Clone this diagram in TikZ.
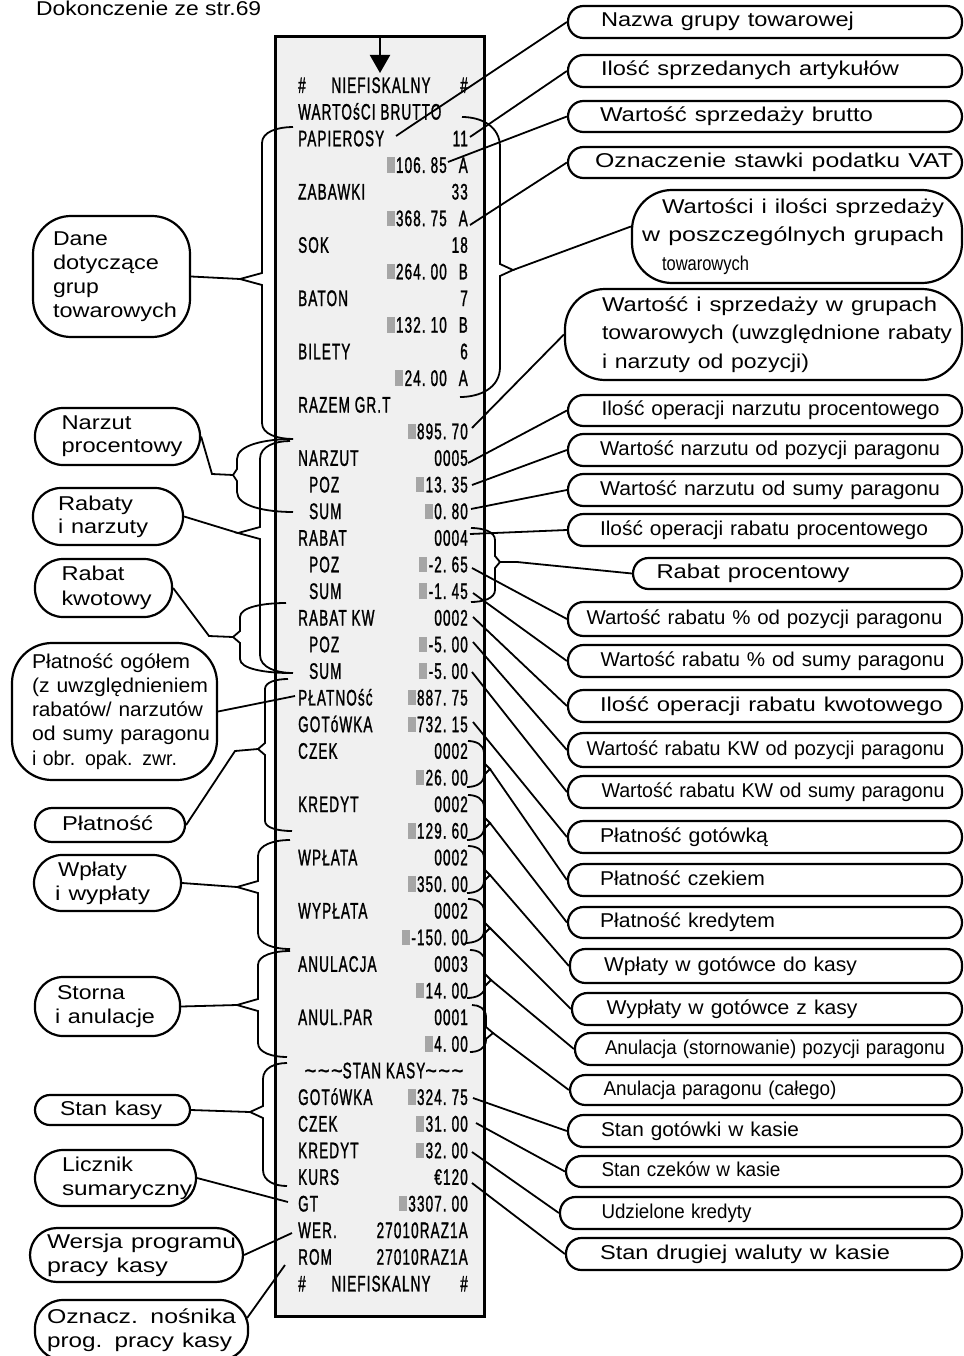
\documentclass[tikz,border=0pt]{standalone}
\usepackage{fontspec}
\usepackage{graphicx}
\usepackage{xcolor}
\setmainfont{Liberation Sans}
\newfontfamily\rcptf[FakeStretch=0.6,FakeBold=1.2,LetterSpace=5]{Liberation Sans}
\newcommand\rcpt{\rcptf\fontsize{22.5}{26}\selectfont}
\newcommand\lab{\fontsize{20}{24}\selectfont}
\newcommand\labs[1]{\fontsize{20}{#1}\selectfont}
\newcommand\fw[2]{\resizebox{#1}{\height}{#2}}
\newcommand\zl{{\color{black!35}\rule{8pt}{15.5pt}}\kern1.5pt}
\newcommand\dt{.\kern5pt}
\newcommand\sfx{\kern12pt}
\usetikzlibrary{arrows.meta,calc}
\tikzset{
  rb/.style={draw, line width=2.2pt, rectangle, rounded corners=15.5pt, inner sep=0pt, align=left, font=\lab},
  lb/.style={draw, line width=2.2pt, rectangle, inner sep=0pt, align=left, font=\lab},
  one/.style={text height=14.5pt, text depth=4.5pt},
  con/.style={line width=1.8pt},
  br/.style={line width=1.8pt},
  rt/.style={inner sep=0pt, font=\rcpt},
}
\newcommand\rl[2]{\node[rt,anchor=base west] (l#1) at (298,{93+(#1-1)*26.63}) {#2};}
\newcommand\ri[2]{\node[rt,anchor=base west] (l#1) at (309,{93+(#1-1)*26.63}) {#2};}
\newcommand\rr[2]{\node[rt,anchor=base east] (r#1) at (468,{93+(#1-1)*26.63}) {#2};}
% brace: tipname, xe_top, y_top, xe_bot, y_bot, body x, tip x, tip y, hook height
\newcommand\brc[9]{%
  \coordinate (#1) at (#7,#8);
  \draw[br] (#2,#3) .. controls ({(#2+#6)/2},#3) and (#6,{#3+0.3*#9}) .. (#6,{#3+#9})
    -- (#6,{#8-6}) -- (#1) -- (#6,{#8+6}) -- (#6,{#5-#9})
    .. controls (#6,{#5-0.3*#9}) and ({(#4+#6)/2},#5) .. (#4,#5);
}
\begin{document}
\begin{tikzpicture}[x=1pt,y=-1pt]
\fill[white] (0,0) rectangle (963,1356);
\useasboundingbox (0,0) rectangle (963,1356);

\node[anchor=base west, inner sep=0pt, font=\lab] (title) at (36,15.5) {\fw{225pt}{Dokonczenie ze str.69}};

% receipt
\node[draw, line width=3pt, fill=black!6, minimum width=209pt, minimum height=1279pt, inner sep=0pt] (rcp) at (379.5,676.5) {};
\coordinate (a0) at (380,37);
\coordinate (a1) at (380,73);
\draw[line width=2pt,-{Triangle[width=20pt,length=18pt]}] (a0) -- (a1);

\node[rt,anchor=base west] (l1a) at (298,93) {\#};
\node[rt,anchor=base] (l1) at (381,93) {NIEFISKALNY};
\node[rt,anchor=base east] (r1) at (468,93) {\#};
\rl{2}{WARTOśCI BRUTTO}
\rl{3}{PAPIEROSY} \rr{3}{11}
\rr{4}{\zl106\dt85\sfx A}
\rl{5}{ZABAWKI} \rr{5}{33}
\rr{6}{\zl368\dt75\sfx A}
\rl{7}{SOK} \rr{7}{18}
\rr{8}{\zl264\dt00\sfx B}
\rl{9}{BATON} \rr{9}{7}
\rr{10}{\zl132\dt10\sfx B}
\rl{11}{BILETY} \rr{11}{6}
\rr{12}{\zl24\dt00\sfx A}
\rl{13}{RAZEM GR.T}
\rr{14}{\zl895\dt70}
\rl{15}{NARZUT} \rr{15}{0005}
\ri{16}{POZ} \rr{16}{\zl13\dt35}
\ri{17}{SUM} \rr{17}{\zl0\dt80}
\rl{18}{RABAT} \rr{18}{0004}
\ri{19}{POZ} \rr{19}{\zl-2\dt65}
\ri{20}{SUM} \rr{20}{\zl-1\dt45}
\rl{21}{RABAT KW} \rr{21}{0002}
\ri{22}{POZ} \rr{22}{\zl-5\dt00}
\ri{23}{SUM} \rr{23}{\zl-5\dt00}
\rl{24}{PŁATNOść} \rr{24}{\zl887\dt75}
\rl{25}{GOTóWKA} \rr{25}{\zl732\dt15}
\rl{26}{CZEK} \rr{26}{0002}
\rr{27}{\zl26\dt00}
\rl{28}{KREDYT} \rr{28}{0002}
\rr{29}{\zl129\dt60}
\rl{30}{WPŁATA} \rr{30}{0002}
\rr{31}{\zl350\dt00}
\rl{32}{WYPŁATA} \rr{32}{0002}
\rr{33}{\zl-150\dt00}
\rl{34}{ANULACJA} \rr{34}{0003}
\rr{35}{\zl14\dt00}
\rl{36}{ANUL.PAR} \rr{36}{0001}
\rr{37}{\zl4\dt00}
\node[rt,anchor=base] (l38) at (384,{93+37*26.63}) {\fw{38pt}{\textasciitilde\textasciitilde\textasciitilde}STAN KASY\fw{38pt}{\textasciitilde\textasciitilde\textasciitilde}};
\rl{39}{GOTóWKA} \rr{39}{\zl324\dt75}
\rl{40}{CZEK} \rr{40}{\zl31\dt00}
\rl{41}{KREDYT} \rr{41}{\zl32\dt00}
\rl{42}{KURS} \rr{42}{€120}
\rl{43}{GT} \rr{43}{\zl3307\dt00}
\rl{44}{WER.} \rr{44}{27010RAZ1A}
\rl{45}{ROM} \rr{45}{27010RAZ1A}
\node[rt,anchor=base west] (l46a) at (298,1291.4) {\#};
\node[rt,anchor=base] (l46) at (381,1291.4) {NIEFISKALNY};
\node[rt,anchor=base east] (r46) at (468,1291.4) {\#};

% right boxes
\node[rb,one,minimum width=394pt,minimum height=32pt,text width=328pt] (R1) at (765,22) {\fw{253pt}{Nazwa grupy towarowej}};
\node[rb,one,minimum width=394pt,minimum height=32pt,text width=328pt] (R2) at (765,71) {\fw{298pt}{Ilość sprzedanych artykułów}};
\node[rb,one,minimum width=394pt,minimum height=31pt,text width=330pt] (R3) at (765,116.5) {\fw{273pt}{Wartość sprzedaży brutto}};
\node[rb,one,minimum width=394pt,minimum height=31pt,text width=340pt] (R4) at (765,162.5) {\fw{358pt}{Oznaczenie stawki podatku VAT}};
\node[rb,rounded corners=40pt,minimum width=330pt,minimum height=93pt,text width=310pt,font=\labs{28.3}] (R5) at (797,236.5)
  {\hspace*{20pt}\fw{282pt}{Wartości i ilości sprzedaży}\\\fw{302pt}{w poszczególnych grupach}\\\hspace*{20pt}\fw{87pt}{towarowych}};
\node[rb,rounded corners=40pt,minimum width=397pt,minimum height=91pt,text width=323pt,font=\labs{28.5}] (R6) at (763.5,334.5)
  {\fw{335pt}{Wartość i sprzedaży w grupach}\\\fw{350pt}{towarowych (uwzględnione rabaty}\\\fw{207pt}{i narzuty od pozycji)}};
\node[rb,one,minimum width=394pt,minimum height=31pt,text width=327pt] (R7) at (765,410.5) {\fw{338pt}{Ilość operacji narzutu procentowego}};
\node[rb,one,minimum width=394pt,minimum height=32pt,text width=330pt] (R8) at (765,450) {\fw{340pt}{Wartość narzutu od pozycji paragonu}};
\node[rb,one,minimum width=394pt,minimum height=32pt,text width=330pt] (R9) at (765,490) {\fw{340pt}{Wartość narzutu od sumy paragonu}};
\node[rb,one,minimum width=394pt,minimum height=32pt,text width=330pt] (R10) at (765,530) {\fw{328pt}{Ilość operacji rabatu procentowego}};
\node[rb,one,minimum width=329pt,minimum height=31pt,text width=282pt] (R11) at (797.5,573.5) {\fw{193pt}{Rabat procentowy}};
\node[rb,one,minimum width=394pt,minimum height=34pt,text width=357pt] (R12) at (765,619) {\fw{356pt}{Wartość rabatu \% od pozycji paragonu}};
\node[rb,one,minimum width=394pt,minimum height=32pt,text width=329pt] (R13) at (765,661) {\fw{344pt}{Wartość rabatu \% od sumy paragonu}};
\node[rb,one,minimum width=394pt,minimum height=32pt,text width=330pt] (R14) at (765,706) {\fw{343pt}{Ilość operacji rabatu kwotowego}};
\node[rb,one,minimum width=394pt,minimum height=34pt,text width=357pt] (R15) at (765,750) {\fw{358pt}{Wartość rabatu KW od pozycji paragonu}};
\node[rb,one,minimum width=394pt,minimum height=32pt,text width=327pt] (R16) at (765,792) {\fw{343pt}{Wartość rabatu KW od sumy paragonu}};
\node[rb,one,minimum width=394pt,minimum height=32pt,text width=330pt] (R17) at (765,837) {\fw{168pt}{Płatność gotówką}};
\node[rb,one,minimum width=394pt,minimum height=32pt,text width=330pt] (R18) at (765,880) {\fw{165pt}{Płatność czekiem}};
\node[rb,one,minimum width=394pt,minimum height=31pt,text width=330pt] (R19) at (765,922.5) {\fw{175pt}{Płatność kredytem}};
\node[rb,one,minimum width=392pt,minimum height=34pt,text width=324pt] (R20) at (766,966) {\fw{253pt}{Wpłaty w gotówce do kasy}};
\node[rb,one,minimum width=390pt,minimum height=32pt,text width=321pt] (R21) at (767,1009) {\fw{251pt}{Wypłaty w gotówce z kasy}};
\node[rb,one,minimum width=387pt,minimum height=32pt,text width=327pt] (R22) at (768.5,1049) {\fw{340pt}{Anulacja (stornowanie) pozycji paragonu}};
\node[rb,one,minimum width=392pt,minimum height=30pt,text width=325pt] (R23) at (766,1090) {\fw{233pt}{Anulacja paragonu (całego)}};
\node[rb,one,minimum width=394pt,minimum height=32pt,text width=328pt] (R24) at (765,1131) {\fw{198pt}{Stan gotówki w kasie}};
\node[rb,one,minimum width=396pt,minimum height=31pt,text width=325pt] (R25) at (764,1171.5) {\fw{179pt}{Stan czeków w kasie}};
\node[rb,one,minimum width=402pt,minimum height=32pt,text width=319pt] (R26) at (761,1213) {\fw{150pt}{Udzielone kredyty}};
\node[rb,one,minimum width=396pt,minimum height=32pt,text width=328pt] (R27) at (764,1254) {\fw{290pt}{Stan drugiej waluty w kasie}};

% left boxes
\node[lb,rounded corners=38pt,minimum width=157pt,minimum height=121pt,text width=117pt,font=\labs{24}] (L1) at (111.5,276.5)
  {\fw{55pt}{Dane}\\\fw{106pt}{dotyczące}\\\fw{46pt}{grup}\\\fw{124pt}{towarowych}};
\node[lb,rounded corners=28pt,minimum width=165pt,minimum height=57pt,text width=112pt,font=\labs{23.3}] (L2) at (117.5,436.5)
  {\fw{70pt}{Narzut}\\\fw{121pt}{procentowy}};
\node[lb,rounded corners=28pt,minimum width=150pt,minimum height=57pt,text width=100pt,font=\labs{23.3}] (L3) at (108,516.5)
  {\fw{75pt}{Rabaty}\\\fw{90pt}{i narzuty}};
\node[lb,rounded corners=28pt,minimum width=137pt,minimum height=58pt,text width=84pt,font=\labs{25}] (L4) at (103.5,588)
  {\fw{63pt}{Rabat}\\\fw{90pt}{kwotowy}};
\node[lb,rounded corners=40pt,minimum width=205pt,minimum height=137pt,text width=165pt,font=\labs{24.2}] (L5) at (114.5,711.5)
  {\fw{158pt}{Płatność ogółem}\\\fw{176pt}{(z uwzględnieniem}\\\fw{171pt}{rabatów/ narzutów}\\\fw{178pt}{od sumy paragonu}\\\fw{145pt}{i obr. opak. zwr.}};
\node[lb,one,rounded corners=17pt,minimum width=150pt,minimum height=34pt,text width=96pt] (L6) at (110,825) {\fw{91pt}{Płatność}};
\node[lb,rounded corners=28pt,minimum width=147pt,minimum height=56pt,text width=105pt,font=\labs{24}] (L7) at (107.5,883)
  {\hspace*{3pt}\fw{69pt}{Wpłaty}\\\fw{95pt}{i wypłaty}};
\node[lb,rounded corners=28pt,minimum width=145pt,minimum height=59pt,text width=105pt,font=\labs{24}] (L8) at (107.5,1006.5)
  {\hspace*{2pt}\fw{68pt}{Storna}\\\fw{100pt}{i anulacje}};
\node[lb,one,rounded corners=15pt,minimum width=155pt,minimum height=30pt,text width=105pt] (L9) at (112.5,1110) {\fw{102pt}{Stan kasy}};
\node[lb,rounded corners=28pt,minimum width=161pt,minimum height=56pt,text width=107pt,font=\labs{24}] (L10) at (115.5,1178)
  {\fw{71pt}{Licznik}\\\fw{130pt}{sumaryczny}};
\node[lb,rounded corners=27pt,minimum width=213pt,minimum height=54pt,text width=179pt,font=\labs{24}] (L11) at (136.5,1255)
  {\fw{189pt}{Wersja programu}\\\fw{121pt}{pracy kasy}};
\node[lb,rounded corners=28pt,minimum width=213pt,minimum height=60pt,text width=189pt,font=\labs{24}] (L12) at (141.5,1330)
  {\fw{189pt}{Oznacz. nośnika}\\\fw{185pt}{prog. pracy kasy}};

% left braces
\brc{tL1}{293}{127}{293}{439}{262}{240}{279}{16}
\brc{tL2}{293}{439}{293}{512}{237}{233}{475}{20}
\brc{tL3}{290}{441}{293}{673}{260}{238}{533}{18}
\brc{tL4}{286}{603}{290}{673}{240}{233}{637}{14}
\brc{tL5}{288}{679}{292}{831}{265}{258}{749}{10}
\brc{tL6}{290}{840}{290}{949}{258}{237}{887}{16}
\brc{tL7}{290}{951}{287}{1057}{258}{237}{1005}{14}
\brc{tL8}{287}{1063}{287}{1186}{263}{250}{1112}{16}

% right braces
\brc{tB1}{462}{117}{460}{397}{500}{513}{270}{30}
\brc{tB2}{471}{528}{471}{602}{495}{500}{562}{12}
\brc{tB3}{468}{741}{467}{787}{484}{490}{769}{12}
\brc{tB4}{468}{795}{467}{840}{484}{490}{823}{12}
\brc{tB5}{468}{846}{467}{893}{484}{490}{875}{12}
\brc{tB6}{468}{899}{465}{943}{484}{490}{928}{12}
\brc{tB7}{470}{950}{467}{998}{485}{491}{980}{12}
\brc{tB8}{472}{1005}{470}{1052}{486}{493}{1033}{12}

% right connectors
\coordinate (s1) at (396,136);   \draw[con] (s1) -- (R1.west);
\coordinate (s2) at (470,137);   \draw[con] (s2) -- (R2.west);
\coordinate (s3) at (448,162);   \draw[con] (s3) -- (R3.west);
\coordinate (s4) at (470,225);   \draw[con] (s4) -- (R4.west);
\draw[con] (tB1) -- ($(R5.west)+(0,-10)$);
\coordinate (s6) at (472,428);   \draw[con] (s6) -- (R6.west);
\coordinate (s7) at (468,463);   \draw[con] (s7) -- (R7.west);
\coordinate (s8) at (472,485);   \draw[con] (s8) -- (R8.west);
\coordinate (s9) at (471,509);   \draw[con] (s9) -- (R9.west);
\coordinate (s10) at (470,534);  \draw[con] (s10) -- (R10.west);
\draw[con] (tB2) -- ++(17,0) -- (R11.west);
\coordinate (s12) at (472,568);  \draw[con] (s12) -- (R12.west);
\coordinate (s13) at (473,593);  \draw[con] (s13) -- (R13.west);
\coordinate (s14) at (473,617);  \draw[con] (s14) -- (R14.west);
\coordinate (s15) at (473,642);  \draw[con] (s15) -- (R15.west);
\coordinate (s16) at (472,672);  \draw[con] (s16) -- (R16.west);
\coordinate (s17) at (473,722);  \draw[con] (s17) -- (R17.west);
\draw[con] (tB3) -- (R18.west);
\draw[con] (tB4) -- (R19.west);
\draw[con] (tB5) -- (R20.west);
\draw[con] (tB6) -- (R21.west);
\draw[con] (tB7) -- (R22.west);
\draw[con] (tB8) -- (R23.west);
\coordinate (s24) at (473,1098); \draw[con] (s24) -- (R24.west);
\coordinate (s25) at (476,1123); \draw[con] (s25) -- (R25.west);
\coordinate (s26) at (472,1152); \draw[con] (s26) -- (R26.west);
\coordinate (s27) at (472,1183); \draw[con] (s27) -- (R27.west);

% left connectors
\draw[con] (L1.east) -- (tL1);
\coordinate (k2) at (212,474);   \draw[con] (L2.east) -- (k2) -- (tL2);
\draw[con] (L3.east) -- (tL3);
\coordinate (k4) at (209,636);   \draw[con] (L4.east) -- (k4) -- (tL4);
\coordinate (k5) at (295,696);   \draw[con] (L5.east) -- (k5);
\coordinate (k6) at (235,751);   \draw[con] (L6.east) -- (k6) -- (tL5);
\draw[con] (L7.east) -- (tL6);
\draw[con] (L8.east) -- (tL7);
\draw[con] (L9.east) -- (tL8);
\coordinate (k10) at (288,1202); \draw[con] (L10.east) -- (k10);
\coordinate (k11) at (292,1233); \draw[con] (L11.east) -- (k11);
\coordinate (k12) at (285,1265); \draw[con] ($(L12.east)+(-2,-12)$) -- (k12);
\end{tikzpicture}
\end{document}
